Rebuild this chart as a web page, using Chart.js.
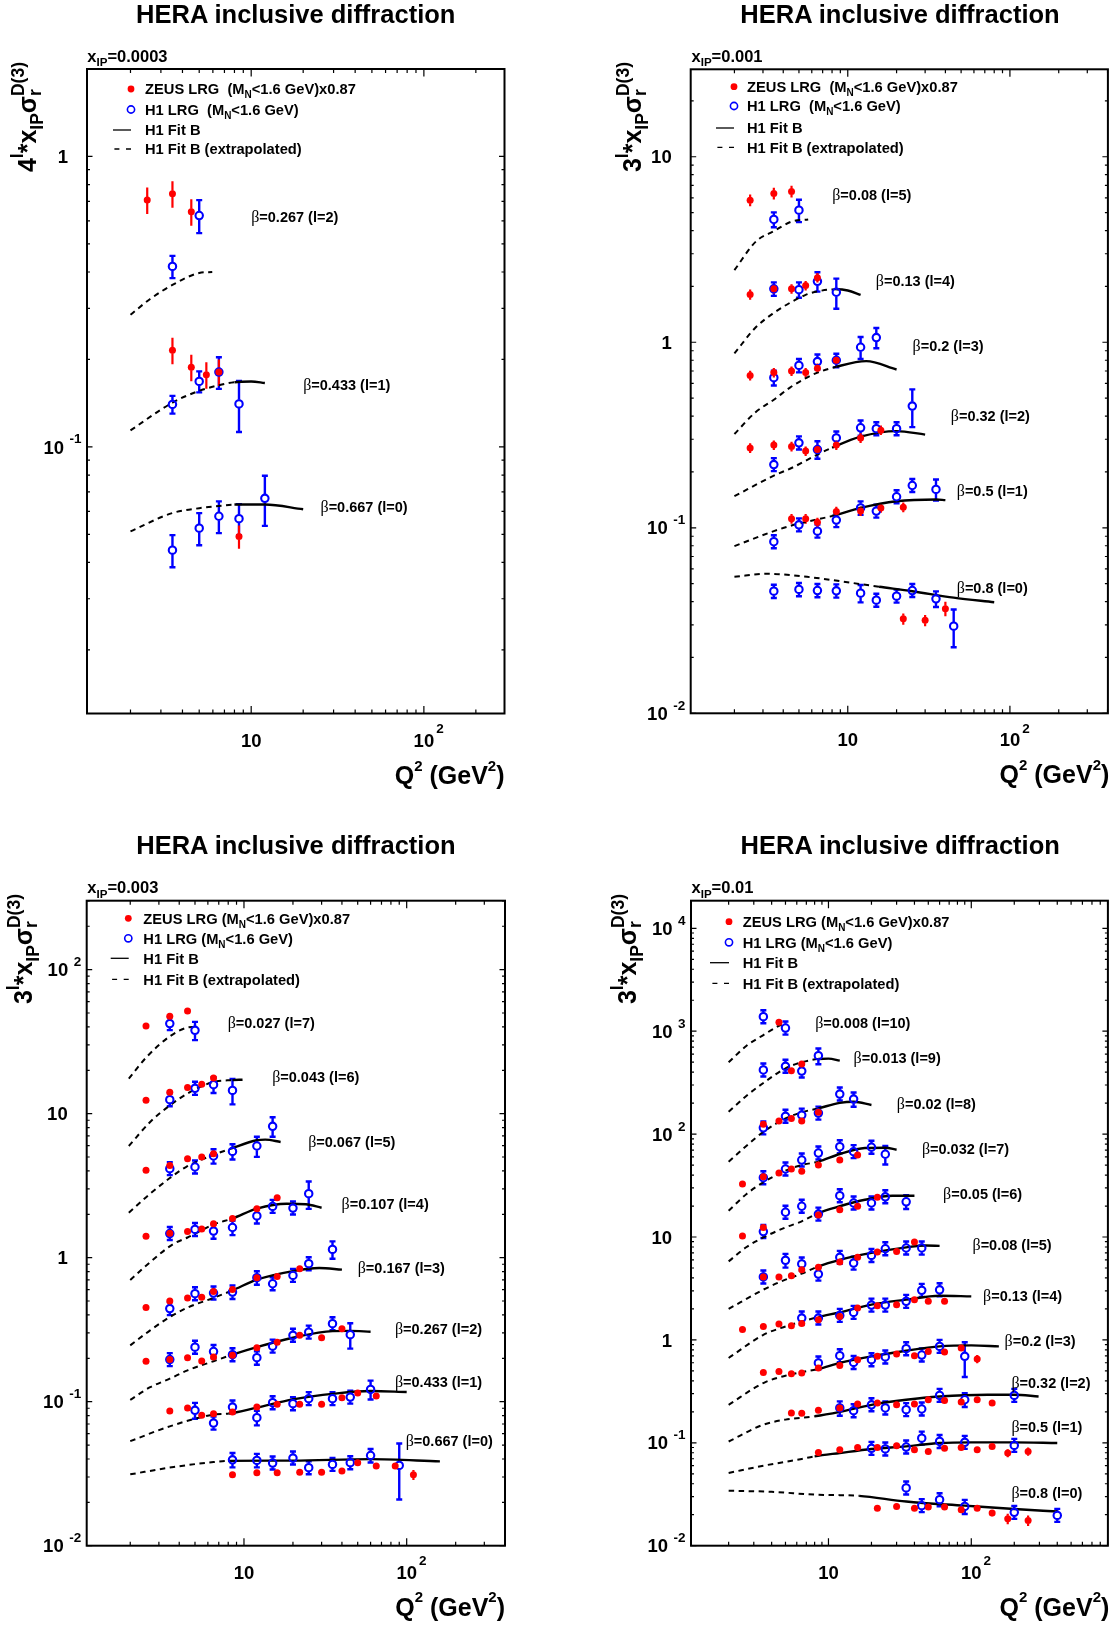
<!DOCTYPE html>
<html><head><meta charset="utf-8">
<script src="https://cdn.jsdelivr.net/npm/chart.js@4.4.1/dist/chart.umd.min.js"></script>
<style>
html,body{margin:0;padding:0;background:#fff;}
body{width:1114px;height:1626px;position:relative;overflow:hidden;font-family:"Liberation Sans",Arial,Helvetica,sans-serif;font-weight:bold;color:#000;}
canvas{position:absolute;}
.t{position:absolute;white-space:nowrap;line-height:1;}
.t sup,.t sub{vertical-align:baseline;position:relative;line-height:0;}
.title{font-size:25.5px;width:600px;text-align:center;}
.xip{font-size:16.5px;}
.xip sub{font-size:0.7em;top:0.4em;}
.xt{font-size:25px;}
.xt sup{font-size:0.6em;top:-0.88em;}
.yt{font-size:25px;line-height:25px;width:300px;text-align:right;transform-origin:0 0;transform:rotate(-90deg);}
.yt sup,.yt sub{font-size:0.7em;}
.yt .sl{top:-0.77em;}
.yt .sip{top:0.38em;}
.yt .sr{top:0.29em;}
.yt .sd{top:-0.67em;margin-left:-0.39em;}
</style>
</head><body>
<canvas id="c1" width="557" height="813" style="left:0;top:0"></canvas>
<canvas id="c2" width="557" height="813" style="left:557px;top:0"></canvas>
<canvas id="c3" width="557" height="813" style="left:0;top:813px"></canvas>
<canvas id="c4" width="557" height="813" style="left:557px;top:813px"></canvas>

<div class="t title" style="left:-4.25px;top:1.9px">HERA inclusive diffraction</div>
<div class="t title" style="left:600px;top:1.9px">HERA inclusive diffraction</div>
<div class="t title" style="left:-4.1px;top:833.4px">HERA inclusive diffraction</div>
<div class="t title" style="left:600.2px;top:833.4px">HERA inclusive diffraction</div>

<div class="t xip" style="left:87.3px;top:47.5px">x<sub>IP</sub>=0.0003</div>
<div class="t xip" style="left:691.5px;top:47.8px">x<sub>IP</sub>=0.001</div>
<div class="t xip" style="left:87.3px;top:879.3px">x<sub>IP</sub>=0.003</div>
<div class="t xip" style="left:691.5px;top:879.3px">x<sub>IP</sub>=0.01</div>

<div class="t xt" style="right:609.5px;top:762.8px">Q<sup>2</sup> (GeV<sup>2</sup>)</div>
<div class="t xt" style="right:4.7px;top:762.1px">Q<sup>2</sup> (GeV<sup>2</sup>)</div>
<div class="t xt" style="right:609px;top:1594.5px">Q<sup>2</sup> (GeV<sup>2</sup>)</div>
<div class="t xt" style="right:4.7px;top:1594.5px">Q<sup>2</sup> (GeV<sup>2</sup>)</div>

<div class="t yt" style="left:14.8px;top:362px">4<sup class="sl">l</sup>*x<sub class="sip">IP</sub>σ<sub class="sr">r</sub><sup class="sd">D(3)</sup></div>
<div class="t yt" style="left:619.5px;top:362.3px">3<sup class="sl">l</sup>*x<sub class="sip">IP</sub>σ<sub class="sr">r</sub><sup class="sd">D(3)</sup></div>
<div class="t yt" style="left:10.5px;top:1193.7px">3<sup class="sl">l</sup>*x<sub class="sip">IP</sub>σ<sub class="sr">r</sub><sup class="sd">D(3)</sup></div>
<div class="t yt" style="left:614.8px;top:1193.7px">3<sup class="sl">l</sup>*x<sub class="sip">IP</sub>σ<sub class="sr">r</sub><sup class="sd">D(3)</sup></div>

<script>
// ======================= DATA =======================
// Each point: [Q2 (GeV^2), plotted value l-scaled, relative error]
// ---- panel 1 : x_IP = 0.0003 (scale 4^l)
const p1Labels = ['β=0.267 (l=2)','β=0.433 (l=1)','β=0.667 (l=0)'];
const p1Zeus = [
 [[2.5,0.708,0.105],[3.5,0.744,0.105],[4.5,0.645,0.105]],
 [[3.5,0.215,0.105],[4.5,0.188,0.105],[5.5,0.177,0.105],[6.5,0.181,0.105]],
 [[8.5,0.0491,0.092]]
];
const p1H1 = [
 [[3.5,0.418,0.088],[5,0.626,0.13]],
 [[3.5,0.140,0.07],[5,0.168,0.083],[6.5,0.181,0.125],[8.5,0.1406,0.2]],
 [[3.5,0.0441,0.127],[5,0.0525,0.127],[6.5,0.0577,0.125],[8.5,0.0566,0.122],[12,0.0665,0.196]]
];
const p1Fit = [
 [[2,0.285],[2.6,0.323],[3.5,0.361],[5,0.397],[5.95,0.40]],
 [[2,0.114],[3.5,0.142],[5,0.156],[6.5,0.163],[8,0.167],[10,0.168],[12,0.166]],
 [[2,0.0512],[3.5,0.0592],[5,0.0615],[6.5,0.0626],[8,0.0633],[12,0.0633],[20,0.061]]
];
const p1FitStart = [Infinity, 8, 8];
const p1LabelAt = [[10.0,0.621],[20.0,0.164],[25.2,0.0622]];
const p1XTicks = [[10,'10',''],[100,'10','2']];
const p1YTicks = [[1,'1',''],[0.1,'10','-1']];

// ---- panel 2 : x_IP = 0.001 (scale 3^l)
const p2Labels = ['β=0.08 (l=5)','β=0.13 (l=4)','β=0.2 (l=3)','β=0.32 (l=2)','β=0.5 (l=1)','β=0.8 (l=0)'];
const p2Zeus = [
 [[2.5,5.83,0.072],[3.5,6.34,0.072],[4.5,6.50,0.072]],
 [[2.5,1.81,0.065],[3.5,1.94,0.06],[4.5,1.94,0.06],[5.5,2.02,0.06],[6.5,2.23,0.06]],
 [[2.5,0.662,0.06],[3.5,0.686,0.06],[4.5,0.699,0.06],[5.5,0.686,0.06],[6.5,0.725,0.06],[8.5,0.80,0.05]],
 [[2.5,0.269,0.06],[3.5,0.279,0.06],[4.5,0.274,0.06],[5.5,0.259,0.06],[6.5,0.264,0.06],[8.5,0.279,0.06],[12,0.305,0.06],[16,0.336,0.06]],
 [[4.5,0.112,0.06],[5.5,0.112,0.06],[6.5,0.107,0.06],[8.5,0.1225,0.06],[12,0.123,0.06],[16,0.128,0.06],[22,0.129,0.06]],
 [[22,0.0323,0.07],[30,0.0317,0.07],[40,0.0366,0.09]]
];
const p2H1 = [
 [[3.5,4.59,0.092],[5,5.15,0.138]],
 [[3.5,1.94,0.083],[5,1.92,0.095],[6.5,2.13,0.12],[8.5,1.86,0.185]],
 [[3.5,0.644,0.092],[5,0.75,0.083],[6.5,0.787,0.092],[8.5,0.80,0.083],[12,0.94,0.136],[15,1.06,0.125]],
 [[3.5,0.219,0.07],[5,0.287,0.08],[6.5,0.264,0.108],[8.5,0.305,0.07],[12,0.346,0.095],[15,0.342,0.07],[20,0.342,0.078],[25,0.453,0.23]],
 [[3.5,0.0841,0.046],[5,0.1037,0.058],[6.5,0.0959,0.074],[8.5,0.110,0.083],[12,0.128,0.083],[15,0.123,0.058],[20,0.147,0.058],[25,0.169,0.074],[35,0.161,0.13]],
 [[3.5,0.0455,0.08],[5,0.0465,0.08],[6.5,0.0459,0.08],[8.5,0.0457,0.08],[12,0.0444,0.108],[15,0.0407,0.07],[20,0.0428,0.07],[25,0.0459,0.07],[35,0.0414,0.097],[45,0.0295,0.23]]
];
const p2Fit = [
 [[2,2.45],[2.73,3.51],[3.5,3.97],[4.5,4.47],[5.7,4.59]],
 [[2,0.87],[2.7,1.2],[3.5,1.44],[4.5,1.65],[5.5,1.8],[6.5,1.88],[8.5,1.93],[10,1.9],[12,1.80]],
 [[2,0.32],[2.7,0.42],[3.5,0.49],[4.4,0.57],[5.6,0.645],[6.5,0.686],[8.5,0.738],[13,0.791],[20,0.713]],
 [[2,0.148],[3.5,0.191],[4.5,0.21],[6.5,0.248],[8,0.27],[12,0.31],[20,0.332],[30,0.318]],
 [[2,0.0796],[3.5,0.0959],[4.5,0.1028],[6.5,0.111],[8,0.1157],[12,0.128],[20,0.139],[35,0.142],[40,0.141]],
 [[2,0.0544],[3.2,0.0565],[5.6,0.0544],[9,0.0515],[15.6,0.0481],[25,0.0455],[45,0.042],[80,0.0397]]
];
const p2FitStart = [Infinity, 8, 8, 8, 8, 15.6];
const p2LabelAt = [[8.02,6.27],[14.9,2.14],[25.1,0.953],[43.2,0.40],[47.0,0.159],[47.0,0.0475]];
const p2XTicks = [[10,'10',''],[100,'10','2']];
const p2YTicks = [[10,'10',''],[1,'1',''],[0.1,'10','-1'],[0.01,'10','-2']];

// ---- panel 3 : x_IP = 0.003 (scale 3^l)
const p3Labels = ['β=0.027 (l=7)','β=0.043 (l=6)','β=0.067 (l=5)','β=0.107 (l=4)','β=0.167 (l=3)','β=0.267 (l=2)','β=0.433 (l=1)','β=0.667 (l=0)'];
const p3Zeus = [
 [[2.5,40.6],[3.5,47.4],[4.5,51.6]],
 [[2.5,12.4],[3.5,14.1],[4.5,15.2],[5.5,16.0],[6.5,17.7]],
 [[2.5,4.04],[3.5,4.37],[4.5,4.87],[5.5,5.0],[6.5,5.27]],
 [[2.5,1.41],[3.5,1.48],[4.5,1.52],[5.5,1.58],[6.5,1.72],[8.5,1.87],[12,2.19],[16,2.61]],
 [[2.5,0.450],[3.5,0.50],[4.5,0.524],[5.5,0.532],[6.5,0.583],[8.5,0.60],[12,0.726],[16,0.741],[22,0.839]],
 [[2.5,0.191],[3.5,0.196],[4.5,0.202],[5.5,0.192],[6.5,0.204],[8.5,0.210],[12,0.237],[16,0.259],[22,0.289],[30,0.278],[40,0.321]],
 [[3.5,0.0861],[4.5,0.0903],[5.5,0.0804],[6.5,0.0826],[8.5,0.0848],[12,0.0918],[16,0.0958],[22,0.0958],[30,0.0958],[40,0.1066],[50,0.1148],[65,0.1094]],
 [[8.5,0.0311],[12,0.0321],[16,0.0321],[22,0.0324],[30,0.0324],[40,0.033],[50,0.0377],[65,0.0357],[85,0.0357],[110,0.0311,0.08]]
];
const p3H1 = [
 [[3.5,42.2,0.08],[5,37.9,0.145]],
 [[3.5,12.5,0.07],[5,15.0,0.1],[6.5,15.9,0.125],[8.5,14.5,0.2]],
 [[3.5,4.15,0.08],[5,4.26,0.092],[6.5,5.08,0.115],[8.5,5.47,0.122],[12,5.96,0.16],[15,8.17,0.155]],
 [[3.5,1.47,0.07],[5,1.57,0.092],[6.5,1.53,0.115],[8.5,1.62,0.115],[12,1.95,0.115],[15,2.27,0.046],[20,2.21,0.092],[25,2.78,0.215]],
 [[3.5,0.443,0.08],[5,0.562,0.092],[6.5,0.568,0.092],[8.5,0.577,0.106],[12,0.726,0.106],[15,0.659,0.046],[20,0.753,0.07],[25,0.908,0.058],[35,1.14,0.138]],
 [[3.5,0.196,0.08],[5,0.239,0.08],[6.5,0.223,0.08],[8.5,0.212,0.07],[12,0.202,0.106],[15,0.243,0.046],[20,0.289,0.046],[25,0.304,0.058],[35,0.348,0.065],[45,0.292,0.2]],
 [[5,0.0871,0.127],[6.5,0.071,0.08],[8.5,0.0918,0.092],[12,0.0774,0.115],[15,0.0984,0.046],[20,0.0968,0.046],[25,0.105,0.058],[35,0.105,0.058],[45,0.1076,0.092],[60,0.1217,0.15]],
 [[8.5,0.0395,0.115],[12,0.0391,0.106],[15,0.0375,0.046],[20,0.0406,0.046],[25,0.0348,0.058],[35,0.0367,0.058],[45,0.0377,0.1],[60,0.0423,0.106],[90,0.0361,0.42]]
];
const p3Fit = [
 [[1.96,17.5],[2.52,24.7],[3.5,34.4],[4.45,39.5],[5,40]],
 [[1.96,5.96],[2.65,8.75],[3.5,11.4],[4.5,13.8],[6.5,16.6],[8.5,17.1],[9.8,17.2]],
 [[1.96,2.05],[2.65,2.78],[3.5,3.57],[4.4,4.26],[6.4,5.14],[8.3,5.71],[12,6.53],[13.5,6.6],[16.8,6.36]],
 [[2,0.70],[2.5,0.88],[3.7,1.25],[4.5,1.38],[6.5,1.70],[8.5,1.87],[12,2.19],[18.3,2.37],[24,2.35],[30,2.22]],
 [[2,0.246],[2.65,0.313],[3.5,0.387],[4.5,0.45],[6.5,0.526],[8.5,0.593],[12,0.703],[20,0.807],[29,0.847],[40,0.826]],
 [[2,0.103],[2.65,0.126],[3.5,0.1444],[4.5,0.165],[6.5,0.191],[8.5,0.212],[12,0.239],[20,0.278],[35,0.309],[45,0.31],[60,0.306]],
 [[2,0.0532],[3.5,0.0674],[6.5,0.0813],[8,0.0826],[12,0.091],[20,0.1038],[36,0.1137],[60,0.1186],[100,0.1167]],
 [[2,0.0313],[3.7,0.0352],[6.5,0.0381],[8,0.0388],[20,0.039],[60,0.0399],[160,0.0385]]
];
const p3FitStart = [Infinity, 8, 8, 8, 8, 8, 8, 8];
const p3LabelAt = [[7.94,42.6],[14.9,17.9],[24.8,6.42],[39.8,2.37],[50,0.847],[84.7,0.321],[84.7,0.138],[98.6,0.0538]];
const p3XTicks = [[10,'10',''],[100,'10','2']];
const p3YTicks = [[100,'10','2'],[10,'10',''],[1,'1',''],[0.1,'10','-1'],[0.01,'10','-2']];

// ---- panel 4 : x_IP = 0.01 (scale 3^l)
const p4Labels = ['β=0.008 (l=10)','β=0.013 (l=9)','β=0.02 (l=8)','β=0.032 (l=7)','β=0.05 (l=6)','β=0.08 (l=5)','β=0.13 (l=4)','β=0.2 (l=3)','β=0.32 (l=2)','β=0.5 (l=1)','β=0.8 (l=0)'];
const p4Zeus = [
 [[4.5,1220]],
 [[5.5,413],[6.5,480]],
 [[3.5,125],[4.5,134],[5.5,142],[6.5,134],[8.5,163]],
 [[2.5,32.7],[3.5,38.6],[4.5,41.9],[5.5,45.8],[6.5,43.5],[8.5,50.1],[12,56.0],[16,62.6]],
 [[2.5,10.2],[3.5,12.4],[8.5,16.4],[12,18.4],[16,19.9],[22,24.3]],
 [[3.5,4.09],[4.5,4.09],[5.5,4.21],[6.5,4.81],[8.5,5.07],[12,5.72],[16,6.34],[22,7.14],[30,7.25],[40,8.94]],
 [[2.5,1.26],[3.5,1.35],[4.5,1.43],[5.5,1.37],[6.5,1.44],[8.5,1.57],[12,1.69],[16,2.04],[22,2.15],[30,2.20],[40,2.46],[50,2.37],[65,2.37]],
 [[3.5,0.483],[4.5,0.494],[5.5,0.469],[6.5,0.477],[8.5,0.533],[12,0.565],[16,0.642],[22,0.692],[30,0.73],[40,0.702],[50,0.773],[65,0.762],[85,0.834],[110,0.652,0.092]],
 [[5.5,0.195],[6.5,0.194],[8.5,0.207],[12,0.218],[16,0.238],[22,0.244],[30,0.234],[40,0.238],[50,0.262],[65,0.257],[85,0.249],[110,0.262],[140,0.244]],
 [[8.5,0.0807],[12,0.0857],[16,0.0902],[22,0.0902],[30,0.0937],[40,0.0857],[50,0.0824],[65,0.0883],[85,0.0902],[110,0.0857],[140,0.0923],[180,0.0796,0.09],[250,0.0824,0.09]],
 [[22,0.0231],[30,0.0241],[40,0.0231],[50,0.0238],[65,0.0238],[85,0.0224],[110,0.0231],[140,0.0208,0.07],[180,0.0183,0.115],[250,0.0176,0.115]]
];
const p4H1 = [
 [[3.5,1383,0.07],[5,1074,0.138]],
 [[3.5,420,0.07],[5,456,0.07],[6.5,410,0.113],[8.5,578,0.175]],
 [[3.5,115,0.07],[5,149,0.07],[6.5,153,0.08],[8.5,160,0.11],[12,245,0.127],[15,219,0.157]],
 [[3.5,37.7,0.07],[5,45.8,0.07],[6.5,56.0,0.07],[8.5,65.5,0.07],[12,75.4,0.113],[15,67.5,0.07],[20,74.5,0.07],[25,63.7,0.205]],
 [[3.5,11.3,0.07],[5,17.4,0.113],[6.5,19.9,0.13],[8.5,16.7,0.07],[12,25.2,0.113],[15,21.4,0.07],[20,21.4,0.07],[25,24.6,0.07],[35,22.0,0.15]],
 [[3.5,4.09,0.092],[5,5.93,0.15],[6.5,5.47,0.092],[8.5,4.36,0.092],[12,6.34,0.104],[15,5.58,0.07],[20,6.62,0.07],[25,7.69,0.07],[35,7.82,0.07],[45,7.82,0.138]],
 [[6.5,1.63,0.1],[8.5,1.63,0.07],[12,1.73,0.092],[15,1.85,0.07],[20,2.18,0.07],[25,2.18,0.046],[35,2.37,0.046],[45,3.03,0.046],[60,3.07,0.092]],
 [[8.5,0.597,0.104],[12,0.702,0.115],[15,0.604,0.07],[20,0.642,0.07],[25,0.683,0.046],[35,0.821,0.046],[45,0.713,0.07],[60,0.865,0.07],[90,0.692,0.37]],
 [[12,0.218,0.16],[15,0.205,0.058],[20,0.234,0.046],[25,0.218,0.046],[35,0.21,0.046],[45,0.213,0.115],[60,0.289,0.046],[90,0.262,0.15],[200,0.289,0.046]],
 [[20,0.0883,0.046],[25,0.0871,0.046],[35,0.091,0.046],[45,0.111,0.07],[60,0.103,0.092],[90,0.101,0.104],[200,0.0944,0.046]],
 [[35,0.0364,0.07],[45,0.0245,0.092],[60,0.028,0.122],[90,0.0241,0.157],[200,0.0211,0.046],[400,0.0197,0.13]]
];
const p4Fit = [
 [[2,499],[2.67,723],[3.5,918],[4.5,1130],[5,1202]],
 [[2,165],[2.67,236],[3.5,314],[5,436],[6.5,499],[8.5,537],[10,542],[12,517]],
 [[2,54],[2.67,77],[3.5,105],[5,142],[6.5,163],[8.5,178],[12,201],[15,206],[20,192]],
 [[2,18.0],[2.67,26.2],[3.5,34.0],[5,44.1],[6.5,50.1],[8.5,54],[12,64.1],[18,73.3],[25,73.8],[30,70.4]],
 [[2,5.8],[2.67,8.0],[3.5,9.9],[5,12.4],[6.5,14.2],[8.5,17.1],[12,19.9],[18,23.0],[28,25.2],[40,25.2]],
 [[2,2.0],[3.5,3.08],[5,3.85],[6.5,4.4],[8.5,5.18],[12,6.0],[20,7.0],[35,7.93],[48,8.28],[60,8.2]],
 [[2,0.667],[3.5,1.12],[5,1.35],[6.5,1.51],[8.5,1.67],[12,1.85],[20,2.20],[35,2.46],[60,2.69],[100,2.65]],
 [[2,0.234],[3.5,0.381],[5,0.449],[6.5,0.486],[8.5,0.521],[12,0.597],[20,0.692],[35,0.785],[60,0.865],[100,0.885],[156,0.865]],
 [[2,0.103],[3.5,0.15],[5,0.168],[8,0.181],[12,0.20],[20,0.234],[35,0.262],[60,0.282],[130,0.293],[200,0.293],[296,0.282]],
 [[2,0.0509],[3.5,0.0599],[6.5,0.0696],[8,0.0738],[12,0.0796],[20,0.0871],[35,0.0923],[60,0.0995],[100,0.101],[200,0.101],[400,0.0995]],
 [[2,0.0342],[4,0.0334],[8.2,0.0313],[12,0.031],[16.4,0.0305],[35,0.0269],[90,0.0245],[200,0.0227],[400,0.0215]]
];
const p4FitStart = [Infinity, 8, 8, 8, 8, 8, 8, 7.6, 8, 8, 16.4];
const p4LabelAt = [[8.07,1220],[15.0,557],[30.1,199],[45.1,72.8],[63.5,26.6],[102,8.41],[121,2.69],[171,0.989],[191,0.386],[191,0.1425],[191,0.033]];
const p4XTicks = [[10,'10',''],[100,'10','2']];
const p4YTicks = [[1e4,'10','4'],[1e3,'10','3'],[100,'10','2'],[10,'10',''],[1,'1',''],[0.1,'10','-1'],[0.01,'10','-2']];

// legend texts: [main, subscript, rest]
const legendWide = [['ZEUS LRG  (M','N','<1.6 GeV)x0.87'],['H1 LRG  (M','N','<1.6 GeV)'],['H1 Fit B','',''],['H1 Fit B (extrapolated)','','']];
const legendNarrow = [['ZEUS LRG (M','N','<1.6 GeV)x0.87'],['H1 LRG (M','N','<1.6 GeV)'],['H1 Fit B','',''],['H1 Fit B (extrapolated)','','']];

// ======================= DRAWING =======================
const SANS = '"Liberation Sans", Arial, Helvetica, sans-serif';
const SERIF = '"Liberation Serif", "DejaVu Serif", serif';
const RED = '#ff0000', BLUE = '#0000ff';

function toXY(pts){ return pts.map(p => ({x:p[0], y:p[1]})); }

function makePanel(id, P) {
  const datasets = [];
  P.fit.forEach((pts, i) => {
    const fs = P.fitStart[i];
    datasets.push({
      type:'line', data: toXY(pts), borderColor:'#000', borderWidth:2.4,
      pointRadius:0, fill:false, cubicInterpolationMode:'monotone', order:3,
      segment:{
        borderDash: c => (c.p0.parsed.x < fs - 1e-9) ? [5.5,4.5] : [],
        borderWidth: c => (c.p0.parsed.x < fs - 1e-9) ? 2.0 : 2.4
      }
    });
  });
  P.h1.forEach(pts => datasets.push({
    type:'line', showLine:false, data: toXY(pts), errs: pts.map(p => p[2] || 0),
    errColor: BLUE, errWidth: 2.4, caps: true, gap: 4.2, minArm: 6.5,
    pointRadius:3.7, pointBorderWidth:2.1, pointBorderColor:BLUE, pointBackgroundColor:'rgba(0,0,0,0)', order:2
  }));
  P.zeus.forEach(pts => datasets.push({
    type:'line', showLine:false, data: toXY(pts), errs: pts.map(p => p[2] || 0),
    errColor: RED, errWidth: 2.2, caps: false, gap: 3, minArm: 0,
    pointRadius:3.5, pointBorderWidth:0, pointBorderColor:RED, pointBackgroundColor:RED, order:1
  }));

  const errPlugin = {
    id:'errbars',
    beforeDatasetsDraw(chart) {
      const ctx = chart.ctx, xs = chart.scales.x, ys = chart.scales.y;
      ctx.save();
      chart.data.datasets.forEach(ds => {
        if (!ds.errs) return;
        ctx.strokeStyle = ds.errColor; ctx.lineWidth = ds.errWidth; ctx.lineCap = 'butt';
        ds.data.forEach((p, k) => {
          const r = ds.errs[k]; if (!r) return;
          const px = xs.getPixelForValue(p.x), py = ys.getPixelForValue(p.y);
          const yt = Math.min(ys.getPixelForValue(p.y * (1 + r)), py - ds.minArm);
          const yb = Math.max(ys.getPixelForValue(p.y * (1 - r)), py + ds.minArm);
          ctx.beginPath();
          if (yt < py - ds.gap) { ctx.moveTo(px, py - ds.gap); ctx.lineTo(px, yt); }
          if (yb > py + ds.gap) { ctx.moveTo(px, py + ds.gap); ctx.lineTo(px, yb); }
          if (ds.caps) {
            ctx.moveTo(px - 3, yt); ctx.lineTo(px + 3, yt);
            ctx.moveTo(px - 3, yb); ctx.lineTo(px + 3, yb);
          }
          ctx.stroke();
        });
      });
      ctx.restore();
    }
  };

  const framePlugin = {
    id:'frame',
    afterDraw(chart) {
      const ctx = chart.ctx, a = chart.chartArea, xs = chart.scales.x, ys = chart.scales.y;
      ctx.save();
      // ticks (inside frame, on all four sides)
      ctx.strokeStyle = '#000'; ctx.lineWidth = 1.2;
      ctx.beginPath();
      for (let d = Math.floor(Math.log10(P.xmin)); d <= Math.ceil(Math.log10(P.xmax)); d++) {
        for (let m = 1; m <= 9; m++) {
          const v = m * Math.pow(10, d);
          if (v < P.xmin * 0.9999 || v > P.xmax * 1.0001) continue;
          const px = xs.getPixelForValue(v), L = (m === 1) ? 7.5 : 4;
          ctx.moveTo(px, a.bottom); ctx.lineTo(px, a.bottom - L);
          ctx.moveTo(px, a.top); ctx.lineTo(px, a.top + L);
        }
      }
      for (let d = Math.floor(Math.log10(P.ymin)); d <= Math.ceil(Math.log10(P.ymax)); d++) {
        for (let m = 1; m <= 9; m++) {
          const v = m * Math.pow(10, d);
          if (v < P.ymin * 0.9999 || v > P.ymax * 1.0001) continue;
          const py = ys.getPixelForValue(v), L = (m === 1) ? 5.5 : 3;
          ctx.moveTo(a.left, py); ctx.lineTo(a.left + L, py);
          ctx.moveTo(a.right, py); ctx.lineTo(a.right - L, py);
        }
      }
      ctx.stroke();
      // frame
      ctx.lineWidth = 2;
      ctx.strokeRect(a.left, a.top, a.right - a.left, a.bottom - a.top);
      // tick labels
      const TF = 18.5, EF = 13.5;
      ctx.fillStyle = '#000';
      P.yTicks.forEach(([v, base, exp]) => {
        const py = ys.getPixelForValue(v);
        if (!exp) {
          ctx.font = `bold ${TF}px ${SANS}`; ctx.textAlign = 'right';
          ctx.fillText(base, a.left - 19, py + 0.36 * TF);
        } else {
          ctx.font = `bold ${EF}px ${SANS}`;
          const ew = ctx.measureText(exp).width, ex = a.left - 5.5 - ew;
          ctx.textAlign = 'left'; ctx.fillText(exp, ex, py - 3.5);
          ctx.font = `bold ${TF}px ${SANS}`; ctx.textAlign = 'right';
          ctx.fillText(base, ex - 5.5, py + 0.36 * TF);
        }
      });
      P.xTicks.forEach(([v, base, exp]) => {
        const px = xs.getPixelForValue(v);
        ctx.font = `bold ${TF}px ${SANS}`; ctx.textAlign = 'center';
        const bw = ctx.measureText(base).width;
        ctx.fillText(base, px, a.bottom + 33);
        if (exp) {
          ctx.font = `bold ${EF}px ${SANS}`; ctx.textAlign = 'left';
          ctx.fillText(exp, px + bw / 2 + 2, a.bottom + 19.5);
        }
      });
      // legend
      const G = P.legend, LF = 14.7;
      G.rows.forEach((dy, i) => {
        const y = a.top + dy;
        if (i === 0) { ctx.fillStyle = RED; ctx.beginPath(); ctx.arc(a.left + G.mx, y, 3.4, 0, 2 * Math.PI); ctx.fill(); }
        if (i === 1) { ctx.strokeStyle = BLUE; ctx.lineWidth = 1.6; ctx.beginPath(); ctx.arc(a.left + G.mx, y, 3.6, 0, 2 * Math.PI); ctx.stroke(); }
        if (i === 2) { ctx.strokeStyle = '#000'; ctx.lineWidth = 1.3; ctx.beginPath(); ctx.moveTo(a.left + G.lx0, y); ctx.lineTo(a.left + G.lx1, y); ctx.stroke(); }
        if (i === 3) {
          ctx.strokeStyle = '#000'; ctx.lineWidth = 1.3; ctx.beginPath();
          ctx.moveTo(a.left + G.lx1 - 16.6, y); ctx.lineTo(a.left + G.lx1 - 11.6, y);
          ctx.moveTo(a.left + G.lx1 - 5, y); ctx.lineTo(a.left + G.lx1, y); ctx.stroke();
        }
        const [t0, ts, t1] = P.legendText[i];
        let x = a.left + G.tx; const by = y + 0.36 * LF;
        ctx.fillStyle = '#000'; ctx.textAlign = 'left';
        ctx.font = `bold ${LF}px ${SANS}`; ctx.fillText(t0, x, by); x += ctx.measureText(t0).width;
        if (ts) { ctx.font = `bold ${LF * 0.68}px ${SANS}`; ctx.fillText(ts, x, by + 4); x += ctx.measureText(ts).width; }
        if (t1) { ctx.font = `bold ${LF}px ${SANS}`; ctx.fillText(t1, x, by); }
      });
      // beta labels
      const BF = 14.5;
      P.labels.forEach((txt, i) => {
        const [qx, vy] = P.labelAt[i];
        let x = xs.getPixelForValue(qx); const by = ys.getPixelForValue(vy) + 0.36 * BF;
        ctx.fillStyle = '#000'; ctx.textAlign = 'left';
        ctx.font = `${BF + 1.5}px ${SERIF}`; ctx.fillText(txt[0], x, by); x += ctx.measureText(txt[0]).width;
        ctx.font = `bold ${BF}px ${SANS}`; ctx.fillText(txt.slice(1), x, by);
      });
      ctx.restore();
    }
  };

  return new Chart(document.getElementById(id), {
    type:'line',
    data:{ datasets },
    options:{
      responsive:false, animation:false, events:[],
      layout:{ padding: P.pad },
      plugins:{ legend:{display:false}, tooltip:{enabled:false}, title:{display:false} },
      scales:{
        x:{ type:'logarithmic', min:P.xmin, max:P.xmax, display:false },
        y:{ type:'logarithmic', min:P.ymin, max:P.ymax, display:false }
      }
    },
    plugins:[errPlugin, framePlugin]
  });
}

makePanel('c1', {
  zeus:p1Zeus, h1:p1H1, fit:p1Fit, fitStart:p1FitStart, labels:p1Labels, labelAt:p1LabelAt,
  xTicks:p1XTicks, yTicks:p1YTicks, legendText:legendWide,
  xmin:1.12, xmax:293, ymin:0.01208, ymax:2.0,
  pad:{left:87, top:69, right:52.5, bottom:99.5},
  legend:{lx0:26, lx1:44, mx:44, tx:58, rows:[20,40.5,61,80]}
});
makePanel('c2', {
  zeus:p2Zeus, h1:p2H1, fit:p2Fit, fitStart:p2FitStart, labels:p2Labels, labelAt:p2LabelAt,
  xTicks:p2XTicks, yTicks:p2YTicks, legendText:legendWide,
  xmin:1.075, xmax:402, ymin:0.01, ymax:29.6,
  pad:{left:133.7, top:69.3, right:4.7, bottom:99.7},
  legend:{lx0:25.3, lx1:43.3, mx:43.3, tx:56.3, rows:[17.4,36.7,58.7,78]}
});
makePanel('c3', {
  zeus:p3Zeus, h1:p3H1, fit:p3Fit, fitStart:p3FitStart, labels:p3Labels, labelAt:p3LabelAt,
  xTicks:p3XTicks, yTicks:p3YTicks, legendText:legendNarrow,
  xmin:1.08, xmax:402, ymin:0.01, ymax:301,
  pad:{left:86.7, top:87.7, right:52, bottom:80.3},
  legend:{lx0:24, lx1:42, mx:41.6, tx:56.6, rows:[17.6,37.6,57.6,78.6]}
});
makePanel('c4', {
  zeus:p4Zeus, h1:p4H1, fit:p4Fit, fitStart:p4FitStart, labels:p4Labels, labelAt:p4LabelAt,
  xTicks:p4XTicks, yTicks:p4YTicks, legendText:legendNarrow,
  xmin:1.09, xmax:905, ymin:0.01, ymax:18550,
  pad:{left:134, top:87.7, right:4.7, bottom:80.3},
  legend:{lx0:19, lx1:38, mx:38, tx:51.7, rows:[21,41.6,62,82.6]}
});
</script>
</body></html>
